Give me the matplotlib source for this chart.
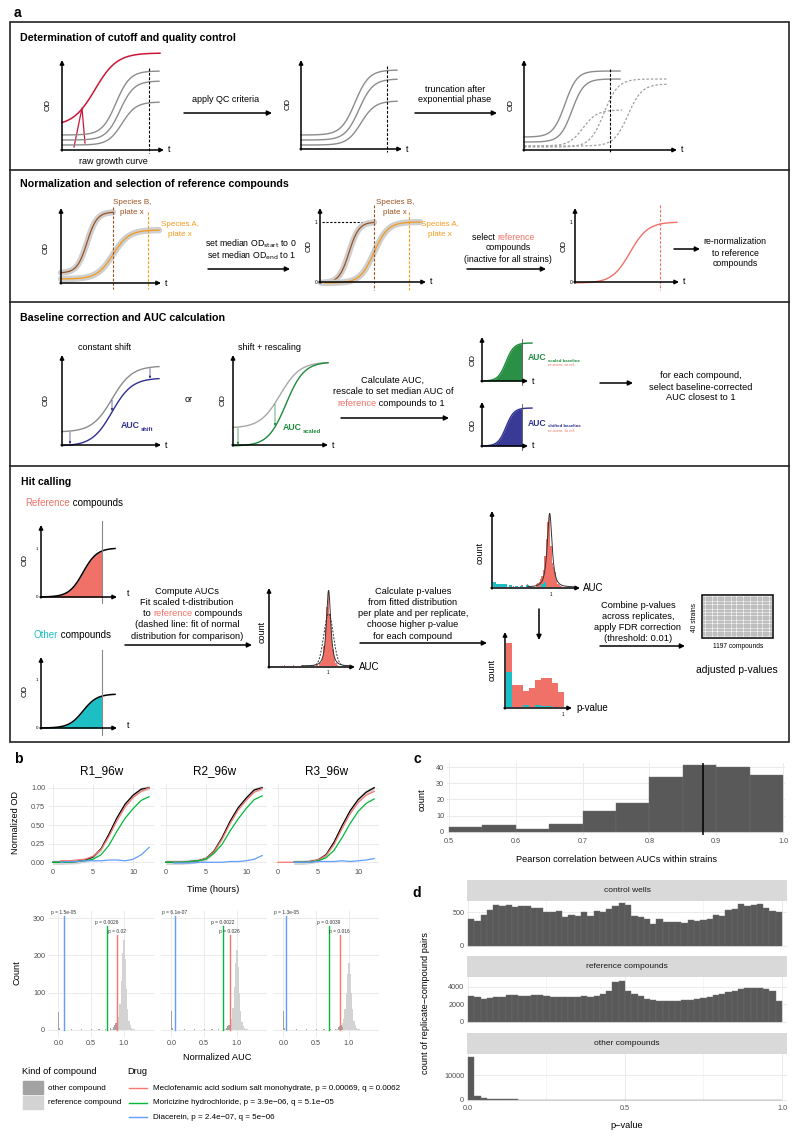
import numpy as np
import matplotlib.pyplot as plt
from matplotlib.patches import Rectangle

plt.rcParams['font.family'] = ['Liberation Sans', 'DejaVu Sans']

W, H = 800, 1141
nan = np.nan

# ---- panel b: growth curves (normalized OD, hourly) ----
hours = [0, 1, 2, 3, 4, 5, 6, 7, 8, 9, 10, 11, 12]
r1_black = [0.0, 0.0, 0.005, 0.01, 0.03, 0.07, 0.18, 0.38, 0.60, 0.78, 0.90, 0.98, 1.0]
r1_red = [nan, 0.02, 0.02, 0.03, 0.04, 0.08, 0.17, 0.35, 0.56, 0.74, 0.87, 0.95, 1.0]
r1_green = [0.0, 0.0, 0.0, 0.01, 0.02, 0.04, 0.10, 0.23, 0.42, 0.59, 0.72, 0.83, 0.88]
r1_blue = [nan, 0.0, 0.01, 0.01, 0.02, 0.02, 0.02, 0.03, 0.03, 0.02, 0.04, 0.10, 0.20]
r2_black = [0.0, 0.0, 0.0, 0.01, 0.02, 0.05, 0.15, 0.33, 0.55, 0.73, 0.86, 0.97, 1.0]
r2_red = [nan, 0.0, 0.0, 0.01, 0.02, 0.05, 0.14, 0.31, 0.52, 0.70, 0.83, 0.94, 0.99]
r2_green = [0.0, 0.0, 0.0, 0.01, 0.02, 0.04, 0.12, 0.24, 0.42, 0.58, 0.72, 0.84, 0.89]
r2_blue = [nan, -0.01, -0.01, -0.01, 0.0, 0.0, 0.0, 0.0, 0.01, 0.01, 0.02, 0.04, 0.09]
r3_black = [nan, nan, 0.0, 0.0, 0.01, 0.03, 0.10, 0.27, 0.49, 0.69, 0.84, 0.94, 1.0]
r3_red = [0.0, 0.0, 0.0, 0.0, 0.01, 0.03, 0.09, 0.24, 0.45, 0.65, 0.80, 0.90, 0.95]
r3_green = [nan, nan, 0.0, 0.0, 0.0, 0.02, 0.06, 0.16, 0.33, 0.52, 0.68, 0.79, 0.85]
r3_blue = [nan, nan, 0.0, 0.0, 0.0, 0.01, 0.01, 0.01, 0.02, 0.01, 0.02, 0.03, 0.05]

# ---- panel b: AUC histograms ----
ref_centers = [0.80, 0.82, 0.84, 0.86, 0.88, 0.90, 0.92, 0.94, 0.96, 0.98, 1.00,
               1.02, 1.04, 1.06, 1.08, 1.10, 1.12, 1.14, 1.16, 1.18, 1.20]
r1_ref = [2, 3, 5, 8, 12, 20, 35, 70, 130, 205, 240, 190, 110, 55, 25, 12, 6, 3, 2, 1, 1]
r2_ref = [2, 3, 4, 6, 10, 18, 30, 60, 115, 180, 215, 170, 100, 50, 22, 10, 5, 3, 2, 1, 1]
r3_ref = [2, 3, 4, 6, 10, 18, 28, 55, 100, 150, 180, 150, 100, 55, 25, 12, 6, 3, 2, 1, 1]
other_centers = [0.0, 0.02, 0.2, 0.35, 0.5, 0.62, 0.72, 0.8, 0.84, 0.86, 0.88, 0.9]
r1_other = [48, 6, 2, 2, 3, 2, 3, 4, 8, 12, 18, 10]
r2_other = [52, 5, 2, 2, 2, 3, 2, 4, 6, 10, 14, 8]
r3_other = [52, 5, 2, 2, 2, 2, 3, 3, 7, 10, 12, 8]
r1_drug_auc = [0.89, 0.74, 0.08]
r2_drug_auc = [0.89, 0.78, 0.05]
r3_drug_auc = [0.86, 0.69, 0.04]
r1_drug_p = ['0.02', '0.0026', '1.5e-05']
r2_drug_p = ['0.026', '0.0022', '6.1e-07']
r3_drug_p = ['0.016', '0.0039', '1.3e-05']
drug_names = ['Meclofenamic acid sodium salt monohydrate, p = 0.00069, q = 0.0062',
              'Moricizine hydrochloride, p = 3.9e\u221206, q = 5.1e\u221205',
              'Diacerein, p = 2.4e\u221207, q = 5e\u221206']

# ---- panel c ----
corr_edges = [0.50, 0.55, 0.60, 0.65, 0.70, 0.75, 0.80, 0.85, 0.90, 0.95, 1.00]
corr_counts = [3, 4, 2, 5, 13, 18, 34, 41, 40, 35]
corr_median = 0.88

# ---- panel d: p-value histograms (50 bins on [0, 1]) ----
control_counts = [390, 375, 450, 525, 610, 595, 605, 575, 585, 585, 560, 560, 500, 505, 515,
                  425, 460, 435, 500, 435, 510, 505, 545, 585, 635, 610, 445, 420, 395, 330,
                  390, 355, 355, 355, 335, 385, 365, 385, 400, 455, 445, 525, 545, 620, 595,
                  605, 620, 560, 520, 500]
reference_counts = [2950, 2800, 2600, 2650, 2800, 2850, 3000, 3000, 2950, 2900, 3050, 3100,
                    2950, 2850, 2800, 2800, 2850, 2800, 2950, 2850, 2900, 3200, 3550, 4500,
                    4700, 3550, 3200, 2900, 2600, 2500, 2350, 2400, 2350, 2400, 2450, 2450,
                    2600, 2700, 2850, 3000, 3150, 3400, 3450, 3750, 3850, 3900, 3850, 3700,
                    3550, 2350]
other_counts = [17300, 1600, 800, 500, 380, 300, 260, 230, 200, 180, 170, 160, 150, 140, 130,
                120, 110, 110, 100, 100, 90, 90, 90, 85, 85, 80, 80, 75, 75, 70, 70, 70, 65,
                65, 65, 60, 60, 60, 55, 55, 55, 50, 50, 50, 50, 45, 45, 45, 45, 40]
facet_names = ['control wells', 'reference compounds', 'other compounds']

# ---- schematic histograms in panel a (relative heights) ----
hc1_centers = [0.25, 0.40, 0.55, 0.70, 0.80, 0.85, 0.875, 0.90, 0.925, 0.95, 0.975, 1.0,
               1.025, 1.05, 1.075, 1.10, 1.125, 1.15]
hc1_heights = [0.01, 0.015, 0.01, 0.02, 0.02, 0.04, 0.06, 0.12, 0.28, 0.55, 0.85, 1.05,
               0.75, 0.45, 0.25, 0.12, 0.05, 0.02]
hc2_red_centers = [0.05, 0.2, 0.35, 0.5, 0.6, 0.75, 0.775, 0.8, 0.825, 0.85, 0.875, 0.9,
                   0.925, 0.95, 0.975, 1.0, 1.025, 1.05, 1.075, 1.1, 1.125, 1.15, 1.175]
hc2_red_heights = [0.03, 0.03, 0.02, 0.03, 0.04, 0.04, 0.06, 0.08, 0.12, 0.16, 0.25, 0.45,
                   0.7, 0.95, 1.05, 0.6, 0.35, 0.3, 0.22, 0.1, 0.05, 0.03, 0.02]
hc2_teal_centers = [0.025, 0.075, 0.125, 0.175, 0.225, 0.3, 0.4, 0.5, 0.6, 0.85, 0.9]
hc2_teal_heights = [0.07, 0.04, 0.04, 0.05, 0.04, 0.03, 0.02, 0.02, 0.03, 0.05, 0.07]
pv_centers = [0.05, 0.15, 0.25, 0.35, 0.45, 0.55, 0.65, 0.75, 0.85, 0.95]
pv_total = [0.86, 0.30, 0.30, 0.21, 0.26, 0.37, 0.39, 0.39, 0.33, 0.20]
pv_other = [0.47, 0.0, 0.0, 0.03, 0.0, 0.03, 0.01, 0.02, 0.0, 0.0]

RED = '#F8766D'
GREEN = '#00BA38'
BLUE = '#619CFF'
SAL = '#F07167'
TEAL = '#1DBFC4'
NAVY = '#2E2F8F'
DKGREEN = '#1E8A3C'
BROWN = '#9A5222'
ORANGE = '#F39A1D'
CRIMSON = '#CC1638'
GREYC = '#8C8C8C'

fig = plt.figure(figsize=(8, 11.41), dpi=100)
ov = fig.add_axes([0, 0, 1, 1])
ov.set_xlim(0, W)
ov.set_ylim(H, 0)
ov.axis('off')


def box(l, t, r, b):
    return [l / W, 1 - b / H, (r - l) / W, (b - t) / H]


def arrow(x0, y0, x1, y1, lw=1.1, ms=7, color='black'):
    ov.annotate('', xy=(x1, y1), xytext=(x0, y0),
                arrowprops=dict(arrowstyle='-|>', color=color, lw=lw,
                                mutation_scale=ms, shrinkA=0, shrinkB=0))


def frame(x0, y0, top, right, od=(None, None), tlab=True, ms=6):
    arrow(x0, y0 + 1, x0, top, lw=1.1, ms=ms)
    arrow(x0 - 1, y0, right, y0, lw=1.1, ms=ms)
    if od[0] is not None:
        ov.text(od[0], od[1], 'OD', rotation=90, ha='center', va='center', fontsize=5.8)
    if tlab:
        ov.text(right + 4, y0, 't', fontsize=6.5, va='center')


def sig(xa, xb, y_lo, y_hi, mid, w):
    x = np.linspace(xa, xb, 100)
    return x, y_lo + (y_hi - y_lo) / (1 + np.exp(-(x - mid) / w))


def vdash(x, y0, y1, color='black'):
    ov.plot([x, x], [y0, y1], color=color, lw=0.8, dashes=(2.5, 1.5))


def txt(x, y, s, size=6.3, **kw):
    kw.setdefault('ha', 'center')
    kw.setdefault('va', 'center')
    return ov.text(x, y, s, fontsize=size, **kw)


def two_color(x, y, first, second, c1, c2, size):
    t1 = ov.text(x, y, first, color=c1, fontsize=size, va='center', ha='left')
    return ov.annotate(second, xy=(1, 0), xycoords=t1, va='bottom', ha='left',
                       color=c2, fontsize=size)


def auc_label(x, y, sub, col):
    t1 = ov.text(x, y, 'AUC', color=col, fontsize=6.3, fontweight='bold', va='center')
    ov.annotate(sub, xy=(1, 0), xycoords=t1, xytext=(0.5, -1), textcoords='offset points',
                va='bottom', ha='left', color=col, fontsize=4.2, fontweight='bold')


# ================= panel a =================
txt(14, 13, 'a', size=10, fontweight='bold', ha='left')
ov.add_patch(Rectangle((10, 22), 779, 720, fill=False, lw=1.2, color='#222222'))
for yy in [170, 302, 466]:
    ov.plot([10, 789], [yy, yy], color='#222222', lw=1.2)

# --- section 1 ---
txt(20, 38, 'Determination of cutoff and quality control', size=7.7, fontweight='bold', ha='left')
frame(62, 150, 60, 164, od=(48, 105))
x, y = sig(62, 160, 126, 53, 95, 11)
ov.plot(x, y, color=CRIMSON, lw=1.1)
ov.plot([74, 82, 85], [147, 108, 143], color=CRIMSON, lw=0.9)
for lo, hi, mid in [(135, 71, 116), (140, 81, 120), (145, 102, 122)]:
    x, y = sig(62, 159, lo, hi, mid, 7)
    ov.plot(x, y, color=GREYC, lw=1.0)
vdash(149, 68, 153)
txt(113, 161, 'raw growth curve', size=6.5)
arrow(184, 113, 272, 113)
txt(226, 99, 'apply QC criteria', size=6.5)

frame(301, 149, 60, 402, od=(288, 104))
for lo, hi, mid in [(135, 70, 355), (140, 79, 359), (145, 101, 361)]:
    x, y = sig(301, 397, lo, hi, mid, 7)
    ov.plot(x, y, color=GREYC, lw=1.0)
vdash(387, 66, 152)
arrow(415, 113, 497, 113)
txt(455, 89, 'truncation after', size=6.5)
txt(455, 100, 'exponential phase', size=6.5)

frame(524, 150, 60, 677, od=(511, 105))
for lo, hi, mid in [(137, 71, 565), (142, 79, 572)]:
    x, y = sig(524, 620, lo, hi, mid, 6)
    ov.plot(x, y, color=GREYC, lw=1.0)
for lo, hi, mid, end in [(146, 110, 583, 622), (147, 79, 604, 667), (146, 84, 628, 667)]:
    x, y = sig(524, end, lo, hi, mid, 7)
    ov.plot(x, y, color='#A0A0A0', lw=0.9, dashes=(2, 1.5))
vdash(610, 69, 153)

# --- section 2 ---
txt(20, 184, 'Normalization and selection of reference compounds', size=7.7,
    fontweight='bold', ha='left')
frame(61, 283, 208, 161, od=(46, 248))
xb, yb = sig(61, 113, 273, 212, 87, 5)
xa, ya = sig(61, 159, 279, 230, 113, 8)
for xx, yy, col in [(xb, yb, BROWN), (xa, ya, ORANGE)]:
    ov.plot(xx, yy, color='#CFCFCF', lw=4.5, solid_capstyle='round')
    ov.plot(xx, yy, color=col, lw=0.9)
vdash(113, 207, 289, BROWN)
vdash(148, 212, 289, ORANGE)
txt(132, 203, 'Species B,', size=5.8, color=BROWN)
txt(132, 212, 'plate x', size=5.8, color=BROWN)
txt(180, 225, 'Species A,', size=5.8, color=ORANGE)
txt(180, 234, 'plate x', size=5.8, color=ORANGE)
txt(251, 244, r'set median OD$_{\rm start}$ to 0')
txt(251, 256, r'set median OD$_{\rm end}$ to 1')
arrow(208, 269, 290, 269)

frame(320, 282, 208, 426, od=(309, 246))
txt(316, 222, '1', size=3.5)
txt(316, 282, '0', size=3.5)
ov.plot([322, 374], [222, 222], color='black', lw=0.8, dashes=(2, 1.5))
xb, yb = sig(321, 374, 283, 222, 349, 5)
xa, ya = sig(325, 420, 283, 222, 374, 7)
for xx, yy, col in [(xb, yb, BROWN), (xa, ya, ORANGE)]:
    ov.plot(xx, yy, color='#CFCFCF', lw=4.5, solid_capstyle='round')
    ov.plot(xx, yy, color=col, lw=0.9)
vdash(374, 205, 290, BROWN)
vdash(409, 212, 290, ORANGE)
txt(395, 203, 'Species B,', size=5.8, color=BROWN)
txt(395, 212, 'plate x', size=5.8, color=BROWN)
txt(440, 225, 'Species A,', size=5.8, color=ORANGE)
txt(440, 234, 'plate x', size=5.8, color=ORANGE)
two_color(472, 238, 'select ', 'reference', 'black', SAL, 6.3)
txt(508, 248, 'compounds')
txt(508, 259, '(inactive for all strains)')
arrow(467, 269, 546, 269)

frame(575, 282, 208, 679, od=(564, 246))
txt(571, 222, '1', size=3.5)
txt(571, 282, '0', size=3.5)
x, y = sig(575, 677, 283, 222, 630, 9)
ov.plot(x, y, color=SAL, lw=1.0)
vdash(660, 205, 290, SAL)
arrow(674, 249, 700, 249)
txt(735, 242, 're-normalization')
txt(735, 253, 'to reference')
txt(735, 264, 'compounds')

# --- section 3 ---
txt(20, 318, 'Baseline correction and AUC calculation', size=7.7, fontweight='bold', ha='left')
txt(105, 347, 'constant shift', size=6.5)
frame(62, 445, 355, 161, od=(46, 400))
xg, yg = sig(62, 159, 432, 366, 112, 10)
xn, yn = sig(62, 159, 446, 378, 112, 10)
ov.plot(xg, yg, color=GREYC, lw=1.0)
ov.plot(xn, yn, color=NAVY, lw=1.0)
for xs in [70, 112, 150]:
    arrow(xs, np.interp(xs, xg, yg) + 1, xs, np.interp(xs, xn, yn) - 1, lw=0.5, ms=3, color=NAVY)
auc_label(121, 426, 'shift', NAVY)
txt(189, 399, 'or', size=6.5)

txt(269, 347, 'shift + rescaling', size=6.5)
frame(233, 445, 355, 328, od=(223, 400))
xg, yg = sig(233, 328, 428, 362, 280, 10)
xn, yn = sig(233, 328, 446, 362, 286, 9)
ov.plot(xg, yg, color='#A8A8A8', lw=1.0)
ov.plot(xn, yn, color=DKGREEN, lw=1.0)
for xs in [238, 275]:
    arrow(xs, np.interp(xs, xg, yg) + 1, xs, np.interp(xs, xn, yn) - 1, lw=0.5, ms=3, color=DKGREEN)
auc_label(283, 428, 'scaled', DKGREEN)

txt(393, 380, 'Calculate AUC,', size=6.7)
txt(393, 392, 'rescale to set median AUC of', size=6.7)
two_color(337, 404, 'reference', ' compounds to 1', SAL, 'black', 6.7)
arrow(341, 418, 449, 418)

for oy, top, col, lab in [(381, 337, DKGREEN, 'scaled baseline'), (446, 402, NAVY, 'shifted baseline')]:
    frame(482, oy, top, 528, od=(473, oy - 21))
    x, y = sig(482, 532, oy, oy - 38, 506, 4)
    m = x <= 522
    ov.fill_between(x[m], y[m], oy, color=col, alpha=0.95, lw=0)
    ov.plot(x, y, color=col, lw=1.0)
    ov.plot([522, 522], [oy - 42, oy + 4], color='#555555', lw=0.6)
    ov.text(528, oy - 23, 'AUC', color=col, fontsize=6.2, va='center', fontweight='bold')
    ov.text(548, oy - 20, lab, color=col, fontsize=3.2, va='center', fontweight='bold')
    ov.text(548, oy - 15.5, 're-norm. to ref.', color=SAL, fontsize=3.0, va='center')
arrow(600, 383, 633, 383)
txt(701, 376, 'for each compound,', size=6.7)
txt(701, 387, 'select baseline-corrected', size=6.7)
txt(701, 398, 'AUC closest to 1', size=6.7)

# --- section 4 ---
txt(21, 482, 'Hit calling', size=7.5, fontweight='bold', ha='left')
two_color(25, 503, 'Reference', ' compounds', SAL, 'black', 7)
two_color(34, 635, 'Other', ' compounds', TEAL, 'black', 7)
for oy, top, plateau, col, vl, one in [(597, 525, 548, SAL, (521, 603), 549),
                                       (728, 657, 694, TEAL, (650, 735), 680)]:
    frame(41, oy, top, 117, od=(25, oy - 37), tlab=False)
    txt(127, oy - 3, 't', size=6.5, ha='left')
    txt(37, one, '1', size=3.2)
    txt(37, oy, '0', size=3.2)
    x, y = sig(41, 115, oy, plateau, 83, 7)
    m = x <= 102
    ov.fill_between(x[m], y[m], oy, color=col, lw=0)
    ov.plot(x, y, color='black', lw=1.1)
    ov.plot([102, 102], vl, color='#8A8A8A', lw=0.8)

for i, s in enumerate(['Compute AUCs', 'Fit scaled t-distribution', None,
                       '(dashed line: fit of normal', 'distribution for comparison)']):
    if s:
        txt(187, 591 + i * 11.3, s, size=6.7)
t_to = ov.text(143, 614, 'to ', fontsize=6.7, va='center', ha='left')
t_ref = ov.annotate('reference', xy=(1, 0), xycoords=t_to, va='bottom', ha='left',
                    color=SAL, fontsize=6.7)
ov.annotate(' compounds', xy=(1, 0), xycoords=t_ref, va='bottom', ha='left', fontsize=6.7)
arrow(125, 645, 252, 645)

for i, s in enumerate(['Calculate p-values', 'from fitted distribution',
                       'per plate and per replicate,', 'choose higher p-value',
                       'for each compound']):
    txt(413, 591 + i * 11.3, s, size=6.7)
arrow(360, 643, 487, 643)

# schematic histogram 1
frame(269, 667, 588, 355, tlab=False)
txt(262, 632, 'count', size=6.5, rotation=90)
txt(359, 667, 'AUC', size=7, ha='left')
txt(328, 673, '1', size=3.3)
ax = fig.add_axes(box(270, 589, 352, 666))
ax.set_facecolor('none')
ax.axis('off')
ax.bar(hc1_centers, hc1_heights, width=0.025, color=SAL)
xx = np.linspace(0.55, 1.4, 200)
ax.plot(xx, 1.08 * (1 + ((xx - 1.0) / 0.04) ** 2 / 2) ** (-1.5), color='#333333', lw=0.7)
ax.plot(xx, 0.75 * np.exp(-0.5 * ((xx - 1.0) / 0.08) ** 2), color='#333333', lw=0.7,
        dashes=(2, 1.5))
ax.set_xlim(0, 1.4)
ax.set_ylim(0, 1.1)

# schematic histogram 2
frame(492, 588, 511, 580, tlab=False)
txt(480, 553, 'count', size=6.5, rotation=90)
txt(583, 588, 'AUC', size=7, ha='left')
txt(551, 594, '1', size=3.3)
ax = fig.add_axes(box(493, 512, 578, 587))
ax.set_facecolor('none')
ax.axis('off')
ax.bar(hc2_red_centers, hc2_red_heights, width=0.025, color=SAL)
ax.bar(hc2_teal_centers, hc2_teal_heights, width=0.05, color=TEAL)
xx = np.linspace(0.6, 1.4, 200)
ax.plot(xx, 1.08 * (1 + ((xx - 0.98) / 0.045) ** 2 / 2) ** (-1.5), color='#333333', lw=0.7)
ax.set_xlim(0, 1.47)
ax.set_ylim(0, 1.1)

arrow(539, 609, 539, 640)

# schematic p-value histogram
frame(505, 708, 632, 572, tlab=False)
txt(492, 670, 'count', size=6.5, rotation=90)
txt(576, 708, 'p-value', size=7, ha='left')
txt(563, 715, '1', size=3.3)
ax = fig.add_axes(box(506, 633, 564, 707))
ax.set_facecolor('none')
ax.axis('off')
ax.bar(pv_centers, pv_total, width=0.1, color=SAL)
ax.bar(pv_centers, pv_other, width=0.1, color=TEAL)
ax.set_xlim(0, 1)
ax.set_ylim(0, 1)

for i, s in enumerate(['Combine p-values', 'across replicates,', 'apply FDR correction',
                       '(threshold: 0.01)']):
    txt(638, 605 + i * 11.3, s, size=6.7)
arrow(600, 646, 685, 646)

ov.add_patch(Rectangle((702, 595), 71, 43, fill=False, lw=1.1, color='black'))
for gx in np.linspace(702, 773, 31)[1:-1]:
    ov.plot([gx, gx], [595, 638], color='#555555', lw=0.3)
for gy in np.linspace(595, 638, 17)[1:-1]:
    ov.plot([702, 773], [gy, gy], color='#555555', lw=0.3)
txt(695, 617, '40 strains', size=4.8, rotation=90)
txt(738, 646, '1197 compounds', size=4.8)
txt(737, 670, 'adjusted p-values', size=7.5)


# ================= panel b =================
def gg(ax):
    ax.set_facecolor('white')
    for s in ax.spines.values():
        s.set_visible(False)
    ax.grid(True, color='#EBEBEB', lw=0.7)
    ax.set_axisbelow(True)
    ax.tick_params(length=0, labelsize=5.2, labelcolor='#4D4D4D', pad=2)


txt(14, 759, 'b', size=10, fontweight='bold', ha='left')
rep_names = ['R1_96w', 'R2_96w', 'R3_96w']
growth = [(r1_black, r1_red, r1_green, r1_blue), (r2_black, r2_red, r2_green, r2_blue),
          (r3_black, r3_red, r3_green, r3_blue)]
ref_counts = [r1_ref, r2_ref, r3_ref]
oth_counts = [r1_other, r2_other, r3_other]
drug_auc = [r1_drug_auc, r2_drug_auc, r3_drug_auc]
drug_p = [r1_drug_p, r2_drug_p, r3_drug_p]
drug_cols = [RED, GREEN, BLUE]
line_tops = [255, 280, 305]
col_l = [48, 161, 273]

for i in range(3):
    ax = fig.add_axes(box(col_l[i], 784, col_l[i] + 106, 866))
    gg(ax)
    blk, red, grn, blu = [np.array(v, dtype=float) for v in growth[i]]
    ax.fill_between(hours, blk - 0.03, blk + 0.03, color='#C4C4C4', alpha=0.7, lw=0)
    ax.plot(hours, blk, color='black', lw=0.9)
    ax.plot(hours, red, color=RED, lw=0.9)
    ax.plot(hours, grn, color=GREEN, lw=0.9)
    ax.plot(hours, blu, color=BLUE, lw=0.9)
    ax.set_xlim(-0.6, 12.6)
    ax.set_ylim(-0.05, 1.05)
    ax.set_xticks([0, 5, 10])
    ax.set_yticks([0, 0.25, 0.5, 0.75, 1.0])
    ax.set_yticklabels(['0.00', '0.25', '0.50', '0.75', '1.00'] if i == 0 else [])
    txt(col_l[i] + 54, 771, rep_names[i], size=8.5)

    ax = fig.add_axes(box(col_l[i], 911, col_l[i] + 106, 1037))
    gg(ax)
    ax.bar(ref_centers, ref_counts[i], width=0.02, color='#D3D3D3')
    ax.bar(other_centers, oth_counts[i], width=0.02, color='#A3A3A3')
    for auc, p, col, top in zip(drug_auc[i], drug_p[i], drug_cols, line_tops):
        ax.plot([auc, auc], [0, top], color=col, lw=1.0)
        ax.text(auc, top + 2, 'p = ' + p, fontsize=3.5, ha='center', va='bottom',
                color='#333333', clip_on=False)
    ax.set_xlim(-0.16, 1.46)
    ax.set_ylim(-19, 319)
    ax.set_xticks([0, 0.5, 1.0])
    ax.set_xticklabels(['0.0', '0.5', '1.0'])
    ax.set_yticks([0, 100, 200, 300])
    if i > 0:
        ax.set_yticklabels([])

txt(16, 823, 'Normalized OD', size=6.7, rotation=90)
txt(213, 890, 'Time (hours)', size=6.7)
txt(17, 973, 'Count', size=6.7, rotation=90)
txt(217, 1058, 'Normalized AUC', size=6.7)

txt(22, 1072, 'Kind of compound', size=6.7, ha='left')
ov.add_patch(Rectangle((23, 1081), 20, 13, color='#A3A3A3'))
ov.add_patch(Rectangle((23, 1096), 20, 13, color='#D3D3D3'))
txt(48, 1088, 'other compound', size=5.8, ha='left')
txt(48, 1103, 'reference compound', size=5.8, ha='left')
txt(127, 1072, 'Drug', size=6.7, ha='left')
for k in range(3):
    yy = 1088 + k * 14.7
    ov.plot([129, 147], [yy, yy], color=drug_cols[k], lw=1.0)
    txt(153, yy, drug_names[k], size=5.8, ha='left')

# ================= panel c =================
txt(414, 759, 'c', size=10, fontweight='bold', ha='left')
ax = fig.add_axes(box(447, 763, 785, 835))
gg(ax)
ax.bar(corr_edges[:-1], corr_counts, width=0.05, align='edge', color='#595959',
       edgecolor='#707070', lw=0.3)
ax.axvline(corr_median, color='black', lw=1.1)
ax.set_xlim(0.497, 1.003)
ax.set_ylim(-2, 42.5)
ax.set_xticks([0.5, 0.6, 0.7, 0.8, 0.9, 1.0])
ax.set_yticks([0, 10, 20, 30, 40])
txt(617, 860, 'Pearson correlation between AUCs within strains', size=6.7)
txt(422, 800, 'count', size=6.7, rotation=90)

# ================= panel d =================
txt(412, 893, 'd', size=10, fontweight='bold', ha='left')
rows = [(880, 901, 947), (956, 977, 1023), (1033, 1054, 1102)]
d_counts = [control_counts, reference_counts, other_counts]
d_ylim = [(-15, 662), (-150, 5100), (-800, 18400)]
d_yticks = [[0, 500], [0, 2000, 4000], [0, 10000]]
d_edges = np.linspace(0, 1, 51)
for k in range(3):
    st, top, bot = rows[k]
    ov.add_patch(Rectangle((467, st), 320, top - st, color='#D9D9D9', lw=0))
    txt(627, (st + top) / 2, facet_names[k], size=6, color='#1A1A1A')
    ax = fig.add_axes(box(467, top, 787, bot))
    gg(ax)
    ax.bar(d_edges[:-1], d_counts[k], width=0.02, align='edge', color='#595959',
           edgecolor='#6E6E6E', lw=0.3)
    ax.set_xlim(-0.003, 1.016)
    ax.set_ylim(*d_ylim[k])
    ax.set_xticks([0, 0.5, 1.0])
    ax.set_xticks([0.25, 0.75], minor=True)
    ax.grid(True, which='minor', axis='x', color='#F2F2F2', lw=0.5)
    ax.set_yticks(d_yticks[k])
    ax.set_yticklabels([str(v) for v in d_yticks[k]])
    if k < 2:
        ax.set_xticklabels([])
    else:
        ax.set_xticklabels(['0.0', '0.5', '1.0'])
    ax.tick_params(which='minor', length=0)
txt(425, 1003, 'count of replicate\u2212compound pairs', size=6.7, rotation=90)
txt(627, 1125, 'p\u2212value', size=6.7)

fig.savefig('out.png', dpi=100)
